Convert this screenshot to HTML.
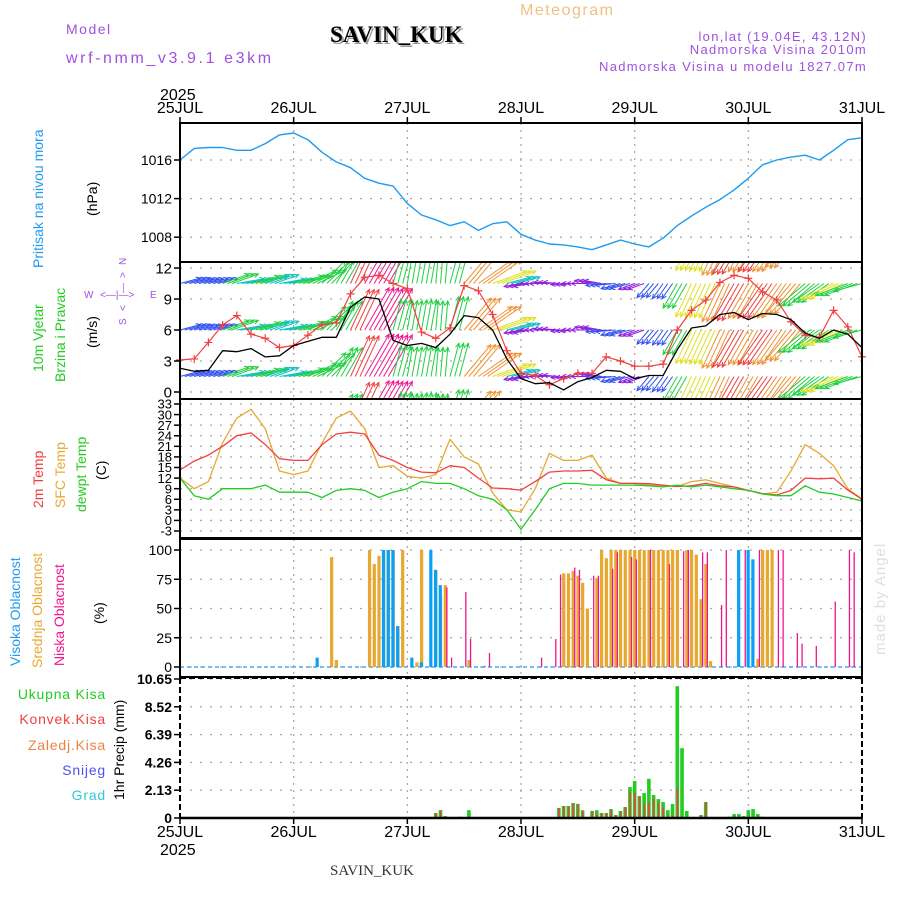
<!DOCTYPE html>
<html><head><meta charset="utf-8"><style>
html,body{margin:0;padding:0;background:#fff;}
svg{display:block;font-family:"Liberation Sans",sans-serif;}
</style></head><body>
<svg id="chart" width="900" height="900" viewBox="0 0 900 900">
<defs>
<clipPath id="clipW"><rect x="180" y="263" width="682" height="135"/></clipPath>
<clipPath id="clipP"><rect x="180" y="123" width="682" height="138"/></clipPath>
</defs>
<g>
<text x="520" y="15" font-size="16" fill="#f0c080" letter-spacing="1.5">Meteogram</text>
<text x="66" y="34" font-size="14" fill="#a050e0" letter-spacing="1.5">Model</text>
<text x="66" y="63" font-size="16" fill="#a050e0" letter-spacing="2.6">wrf-nmm_v3.9.1 e3km</text>
<text x="332" y="44" font-size="23" font-weight="bold" font-family="Liberation Serif,serif" fill="#9a9a9a">SAVIN_KUK</text>
<text x="330" y="42" font-size="23" font-weight="bold" font-family="Liberation Serif,serif" fill="#000">SAVIN_KUK</text>
<text x="867" y="41" font-size="13" fill="#a050e0" text-anchor="end" letter-spacing="1.3">lon,lat (19.04E, 43.12N)</text>
<text x="867" y="54" font-size="13" fill="#a050e0" text-anchor="end" letter-spacing="1.3">Nadmorska Visina 2010m</text>
<text x="867" y="71" font-size="13" fill="#a050e0" text-anchor="end" letter-spacing="1.3">Nadmorska Visina u modelu 1827.07m</text>
<text x="160" y="100" font-size="16" fill="#000">2025</text>
<text x="160" y="855" font-size="16" fill="#000">2025</text>
<text x="330" y="875" font-size="15" font-family="Liberation Serif,serif" fill="#333">SAVIN_KUK</text>
<text transform="translate(885,655) rotate(-90)" font-size="15" fill="#d8e4d8" letter-spacing="1">made by Angel</text>
</g>
<g>
<text transform="translate(43,268) rotate(-90)" font-size="14" fill="#1e9bf0">Pritisak na nivou mora</text>
<text transform="translate(97,216) rotate(-90)" font-size="14" fill="#000">(hPa)</text>
<text transform="translate(43,372) rotate(-90)" font-size="14" fill="#22cc22">10m Vjetar</text>
<text transform="translate(65,382) rotate(-90)" font-size="14" fill="#22cc22">Brzina i Pravac</text>
<text transform="translate(97,348) rotate(-90)" font-size="14" fill="#000">(m/s)</text>
<g font-size="10" fill="#a050e0">
<text transform="translate(126,265) rotate(-90)">N</text>
<text transform="translate(126,278) rotate(-90)">&gt;</text>
<text transform="translate(126,293) rotate(-90)">—</text>
<text transform="translate(126,311) rotate(-90)">&lt;</text>
<text transform="translate(126,325) rotate(-90)">S</text>
<text x="84" y="298">W</text><text x="100" y="298">&lt;—|—&gt;</text><text x="150" y="298">E</text>
</g>
<text transform="translate(43,508) rotate(-90)" font-size="14" fill="#f03c3c">2m Temp</text>
<text transform="translate(65,508) rotate(-90)" font-size="14" fill="#e8a830">SFC Temp</text>
<text transform="translate(86,512) rotate(-90)" font-size="14" fill="#22cc22">dewpt Temp</text>
<text transform="translate(106,480) rotate(-90)" font-size="14" fill="#000">(C)</text>
<text transform="translate(20,666) rotate(-90)" font-size="14" fill="#1e9bf0">Visoka Oblacnost</text>
<text transform="translate(42,668) rotate(-90)" font-size="14" fill="#e8a830">Srednja Oblacnost</text>
<text transform="translate(64,666) rotate(-90)" font-size="14" fill="#f0148c">Niska Oblacnost</text>
<text transform="translate(104,624) rotate(-90)" font-size="14" fill="#000">(%)</text>
<g font-size="14" text-anchor="end" letter-spacing="0.8">
<text x="106" y="699" fill="#22cc22">Ukupna Kisa</text>
<text x="106" y="724" fill="#f04040">Konvek.Kisa</text>
<text x="106" y="750" fill="#f08040">Zaledj.Kisa</text>
<text x="106" y="775" fill="#5050f0">Snijeg</text>
<text x="106" y="800" fill="#30c8d8">Grad</text>
</g>
<text transform="translate(124,800) rotate(-90)" font-size="14" fill="#000">1hr Precip (mm)</text>
</g>
<g id="grid"></g>
<g id="marks"></g>
<g id="frames"></g>
<g id="ticks"></g>
</svg>
<script>
// ---- data (3-hourly, 49 points, 25JUL 00 -> 31JUL 00) ----
const dayLabels = ["25JUL","26JUL","27JUL","28JUL","29JUL","30JUL","31JUL"];
const pressure = [1016.0,1017.2,1017.3,1017.3,1017.0,1017.0,1017.7,1018.6,1018.8,1018.1,1016.8,1015.8,1015.2,1014.1,1013.6,1013.3,1011.5,1010.3,1009.8,1009.2,1009.6,1008.7,1009.4,1009.6,1008.3,1007.7,1007.3,1007.2,1007.0,1006.7,1007.2,1007.7,1007.3,1007.0,1007.9,1009.2,1010.2,1011.1,1011.9,1012.9,1014.1,1015.5,1016.0,1016.3,1016.5,1016.0,1017.0,1018.1,1018.3];
const windSpeed = [2.3,2.0,2.1,4.0,3.9,4.2,3.4,3.5,4.5,4.9,5.3,5.3,8.2,9.2,9.0,5.0,4.5,4.7,4.3,5.6,7.4,7.2,6.0,3.2,1.3,0.8,0.9,0.2,1.0,1.4,2.1,2.0,1.3,1.6,1.6,4.1,6.2,6.4,7.5,7.7,7.0,7.6,7.5,7.0,5.7,5.2,6.0,5.6,4.3];
const windGust = [3.1,3.2,4.8,6.5,7.4,5.6,5.2,4.3,4.5,5.5,6.5,6.7,9.5,11.1,11.3,10.5,10.0,5.8,5.2,6.2,10.3,9.8,7.5,4.0,1.8,1.6,0.7,1.3,1.8,1.8,3.4,3.0,2.5,2.5,2.7,6.0,7.9,8.9,10.6,11.3,11.0,9.7,8.9,6.8,5.5,5.3,7.9,6.3,3.4];
const windDir = [15,15,15,20,10,15,20,10,15,25,45,60,65,60,60,75,80,80,85,75,50,35,20,15,190,180,175,185,180,170,185,195,200,230,235,240,245,245,245,240,240,235,235,230,220,215,205,200,195];
const temp2m = [14.3,16.8,18.5,21,24,24.8,21.5,17.5,17,17,21.5,24.5,25,24.5,18.5,17,15,13.7,13.5,15.5,15,12,9.2,9,8.6,11,13.7,14,14,14.2,11.5,10.5,10.5,10.4,10,9.6,9.8,10.5,9.8,9.5,8.5,7.6,7.2,8.5,12,11.8,12,8.6,6];
const tempSfc = [12,9,11,22,29,31.5,26,14,13,14,22,29,31,26,15,15.5,12.5,12,13,23,18,16,7.8,3,2.4,9,19,17,17,18.5,12,10.5,10.5,10,9.8,9.6,11,11.5,10.5,9.5,8.5,7.5,8,14,21.5,19,15.5,9,6];
const tempDew = [12,7,6,9,9,9,10,8,8,8,6.5,8.5,9,8.5,6.5,8,9,11,10.5,10.5,9,7,6,3,-2.5,3,9,10.5,10.5,10,10,10,10,9.8,9.5,10,9.5,10,9.5,9,8.5,7.5,7,7,9.8,8,7.5,6.5,5.5];
// cloud (hourly index -> %)
const cloudHighHours = [29,43,44,45,46,49,51,53,54,55,118,120,121];
const cloudHighVals  = [8,100,100,100,35,8,4,100,83,70,100,100,92];
const cloudMidHours = [32,33,40,41,42,43,44,45,46,47,50,51,54,55,56,61,81,82,83,84,85,86,88,89,90,91,92,93,94,95,96,97,98,99,100,101,102,103,104,105,107,108,109,110,111,112,122,123,124,125];
const cloudMidVals  = [94,6,100,88,95,100,100,100,35,100,4,100,83,62,70,6,80,80,82,78,72,50,76,100,93,100,100,100,100,100,100,100,100,100,100,100,100,100,100,100,100,100,96,58,88,5,7,100,100,100];
const cloudLowHours = [56,57,60,61,64,65,76,79,80,83,84,87,88,91,92,95,96,99,103,106,107,110,111,114,115,119,122,126,127,130,131,134,138,141,142];
const cloudLowVals  = [68,8,64,24,1,12,8,24,79,85,83,78,78,84,98,94,92,100,88,99,100,98,98,53,100,100,100,100,100,29,20,18,56,100,98];
// precipitation (hourly index -> mm)
const precipHours = [54,55,56,59,61,80,81,82,83,84,85,87,88,89,90,91,92,93,94,95,96,97,98,99,100,101,102,103,104,105,106,107,110,111,116,117,118,119,120,121,122,123];
const precipTotal = [0.38,0.6,0.15,0.1,0.6,0.77,0.92,0.92,1.15,1.08,0.6,0.54,0.6,0.38,0.38,0.69,0.23,0.54,0.84,2.37,2.83,1.68,1.91,3.0,1.76,1.45,1.22,0.6,1.07,10.1,5.35,0.54,0.23,1.22,0.1,0.3,0.3,0.15,0.6,0.69,0.3,0.1];
const precipConv  = [0.38,0.6,0.1,0,0,0.77,0.92,0.92,1.1,1.08,0.5,0.54,0.3,0.38,0.38,0.6,0.2,0.5,0.84,2.0,1.9,1.68,1.1,1.2,1.5,1.2,0.8,0.2,0.2,2.3,0,0,0.2,1.22,0,0,0,0,0,0,0,0];
const pTicks = [1016,1012,1008];
const wTicks = [12,9,6,3,0];
const tTicks = [33,30,27,24,21,18,15,12,9,6,3,0,-3];
const cTicks = [100,75,50,25,0];
const rTicks = ["10.65","8.52","6.39","4.26","2.13","0"];

const NS="http://www.w3.org/2000/svg";
const X0=180, X1=862, HOURS=144;
const X=h=>X0+h*(X1-X0)/HOURS;
const yP=v=>160-(v-1016)*9.65;
const yW=v=>392-v*10.33;
const yT=v=>531-(v+3)*3.528;
const yC=v=>667-v*1.17;
const yR=v=>818-v*(139/10.65);
function el(tag,attrs,parent){const e=document.createElementNS(NS,tag);for(const k in attrs)e.setAttribute(k,attrs[k]);parent.appendChild(e);return e;}
const grid=document.getElementById('grid'), marks=document.getElementById('marks'), frames=document.getElementById('frames'), ticks=document.getElementById('ticks');
const panels=[[123,262,pTicks.map(yP)],[262,399,wTicks.map(yW)],[399,538,tTicks.map(yT)],[539,677,cTicks.map(yC)],[678,818,rTicks.map(t=>yR(+t))]];
panels.forEach(p=>{
  for(let d=1;d<6;d++){const l=el('line',{x1:X(d*24),x2:X(d*24),y1:p[0],y2:p[1],stroke:'#aaa','stroke-width':1.3,'stroke-dasharray':'2,5'},grid);
  
  }
  p[2].forEach(y=>{const l=el('line',{x1:X0,x2:X1,y1:y,y2:y,stroke:'#aaa','stroke-width':1.3,'stroke-dasharray':'2,8'},grid);
  
  });
});
function poly(arr,yf,color,w,name,clip){
  const pts=arr.map((v,i)=>X(i*3).toFixed(1)+','+yf(v).toFixed(1)).join(' ');
  const p=el('polyline',{points:pts,fill:'none',stroke:color,'stroke-width':w,'stroke-linejoin':'round'},marks);
  if(clip)p.setAttribute('clip-path',clip);
  
  
}
poly(pressure,yP,'#1e9bf0',1.4,'pressure-line','url(#clipP)');
function spdColor(s){return s<1.5?'#9020e0':s<2.5?'#3050f0':s<4?'#10c0c0':s<5.8?'#20d040':s<6.8?'#e0e020':s<7.6?'#f09030':s<8.6?'#f04040':'#f01890';}
const wg=el('g',{'clip-path':'url(#clipW)'},marks);


const rows=[15,10.5,6,1.5,-3];
windSpeed.forEach((s,i)=>{
  const a=windDir[i]*Math.PI/180, L=12+4*s, c=spdColor(s);
  for(let k=0;k<3;k++){
    const h=i*3+k; if(h>HOURS) break;
    rows.forEach(r=>{
      const x=X(h), y=yW(r), tx=x+L*Math.cos(a), ty=y-L*Math.sin(a);
      const ln=el('path',{d:`M${x.toFixed(1)},${y.toFixed(1)}L${tx.toFixed(1)},${ty.toFixed(1)}M${(tx-5*Math.cos(a-0.45)).toFixed(1)},${(ty+5*Math.sin(a-0.45)).toFixed(1)}L${tx.toFixed(1)},${ty.toFixed(1)}L${(tx-5*Math.cos(a+0.45)).toFixed(1)},${(ty+5*Math.sin(a+0.45)).toFixed(1)}`,stroke:c,'stroke-width':1,fill:'none'},wg);
      
      
    });
  }
});
poly(windGust,yW,'#f04040',1.2,'wind-gust-line','url(#clipW)');
windGust.forEach((g,i)=>{const x=X(i*3),y=yW(g);
  const m=el('path',{d:`M${x-4},${y}h8M${x},${y-4}v8`,stroke:'#f04040','stroke-width':1.2},marks);
  
  });
poly(windSpeed,yW,'#000',1.3,'wind-speed-line','url(#clipW)');
poly(tempSfc,yT,'#e8a830',1.3,'sfc-temp-line');
poly(temp2m,yT,'#f04040',1.3,'temp-2m-line');
poly(tempDew,yT,'#22cc22',1.3,'dewpoint-line');
const bl=el('line',{x1:X0,x2:X1,y1:667,y2:667,stroke:'#4aa8f0','stroke-width':1.5,'stroke-dasharray':'4,3'},marks);


cloudMidHours.forEach((h,i)=>{const v=cloudMidVals[i];const r=el('rect',{x:X(h)-1.5,y:yC(v),width:3.2,height:667-yC(v),fill:'#e8a830'},marks);
  
  });
cloudHighHours.forEach((h,i)=>{const v=cloudHighVals[i];const r=el('rect',{x:X(h)-1.8,y:yC(v),width:3.2,height:667-yC(v),fill:'#0aa0f8'},marks);
  
  });
cloudLowHours.forEach((h,i)=>{const v=cloudLowVals[i];const r=el('rect',{x:X(h)+1,y:yC(v),width:1.3,height:667-yC(v),fill:'#f0148c'},marks);
  
  });
precipHours.forEach((h,i)=>{const v=precipTotal[i];const r=el('rect',{x:X(h)-1.8,y:yR(v),width:3.6,height:818-yR(v),fill:'#22cc22'},marks);
  
  
  const c=precipConv[i]; if(c>0){const q=el('rect',{x:X(h)-0.6,y:yR(c),width:1.6,height:818-yR(c),fill:'#f04040'},marks);
  
  }});
[[123,262],[262,399],[399,538],[539,677]].forEach(p=>{const r=el('rect',{x:X0,y:p[0],width:X1-X0,height:p[1]-p[0],fill:'none',stroke:'#000','stroke-width':2},frames);
  
  });
[['M180,678H862',2,'6,3'],['M180,678V818',2,'6,3'],['M862,678V818',2,'6,3'],['M180,818H862',2.5,'']].forEach(d=>{const l=el('path',{d:d[0],stroke:'#000','stroke-width':d[1],'stroke-dasharray':d[2],fill:'none'},frames);
  
  });
dayLabels.forEach((d,i)=>{const x=X(i*24);
  const t1=el('text',{x:x,y:113,'font-size':16,'text-anchor':'middle',fill:'#000'},ticks);t1.textContent=d;
  
  
  const t2=el('text',{x:x,y:837,'font-size':16,'text-anchor':'middle',fill:'#000'},ticks);t2.textContent=d;
  
  
  el('line',{x1:x,x2:x,y1:117,y2:123,stroke:'#000','stroke-width':1.5},ticks);
  el('line',{x1:x,x2:x,y1:818,y2:824,stroke:'#000','stroke-width':1.5},ticks);
});
function yTicks(vals,yf,fs,bold,name){vals.forEach(v=>{const y=yf(+v);
  el('line',{x1:174,x2:180,y1:y,y2:y,stroke:'#000','stroke-width':1.5},ticks);
  const t=el('text',{x:172,y:y+fs*0.36,'font-size':fs,'text-anchor':'end',fill:'#000','font-weight':bold?'bold':'normal'},ticks);t.textContent=v;
  
  });}
yTicks(pTicks,yP,14,false,'pressure-tick');
yTicks(wTicks,yW,15,false,'wind-tick');
yTicks(tTicks,yT,13,false,'temp-tick');
yTicks(cTicks,yC,14,false,'cloud-tick');
yTicks(rTicks,yR,14,true,'precip-tick');
</script>
</body></html>
